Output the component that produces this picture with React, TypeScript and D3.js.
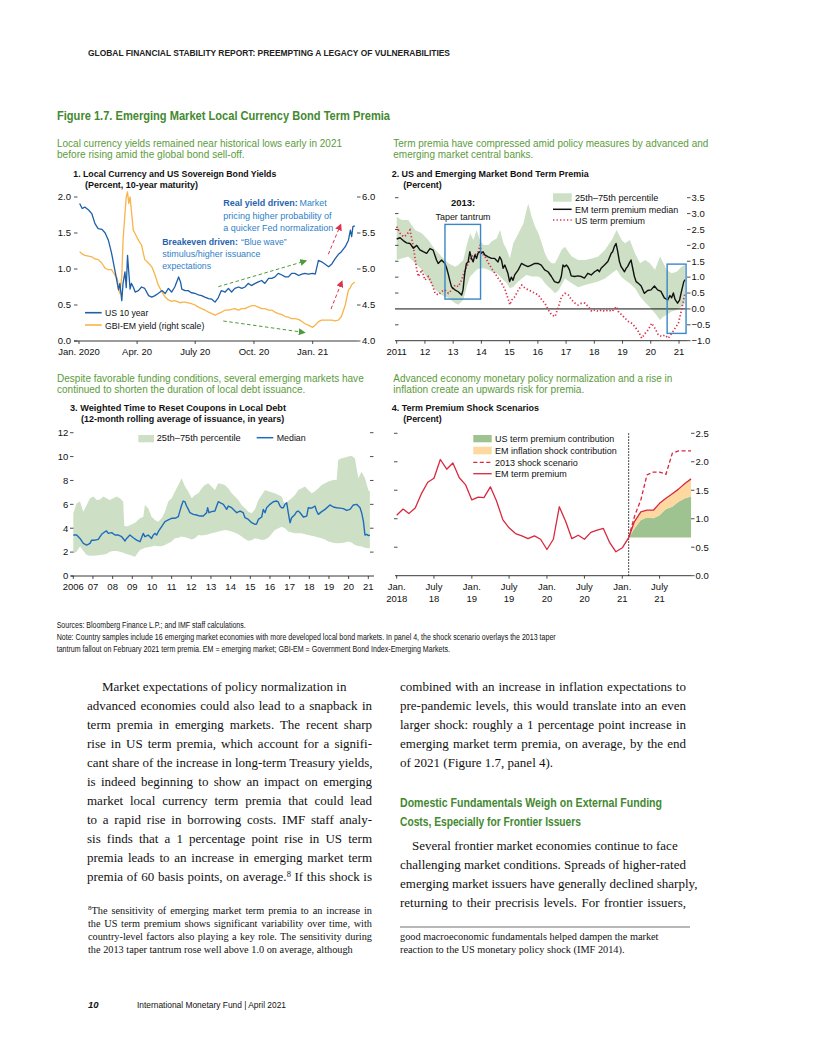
import React, { useLayoutEffect, useRef } from "react";
import * as d3 from "d3";

const NARROW = "'Liberation Sans Narrow','Arial Narrow',sans-serif";
const SERIF = "'Liberation Serif','Times New Roman',serif";
const GREEN_T = "#43892f";
const GREEN_S = "#5c9b3c";
const BAND = "#cde0c6";

// ---------------- Panel 1 ----------------
const p1Dates = ["2020-01-02","2020-01-06","2020-01-10","2020-01-16","2020-01-21","2020-01-26","2020-01-31","2020-02-06","2020-02-11","2020-02-16","2020-02-21","2020-02-26","2020-03-01","2020-03-03","2020-03-05","2020-03-08","2020-03-10","2020-03-13","2020-03-15","2020-03-17","2020-03-19","2020-03-21","2020-03-23","2020-03-26","2020-03-29","2020-04-03","2020-04-08","2020-04-13","2020-04-19","2020-04-24","2020-04-29","2020-05-04","2020-05-10","2020-05-15","2020-05-20","2020-05-25","2020-05-30","2020-06-05","2020-06-08","2020-06-10","2020-06-15","2020-06-20","2020-06-25","2020-07-01","2020-07-06","2020-07-11","2020-07-16","2020-07-22","2020-07-27","2020-08-01","2020-08-06","2020-08-11","2020-08-17","2020-08-22","2020-08-27","2020-09-01","2020-09-07","2020-09-12","2020-09-17","2020-09-22","2020-09-27","2020-10-03","2020-10-08","2020-10-13","2020-10-18","2020-10-24","2020-10-29","2020-11-03","2020-11-08","2020-11-13","2020-11-19","2020-11-24","2020-11-29","2020-12-04","2020-12-10","2020-12-15","2020-12-20","2020-12-25","2021-01-01","2021-01-05","2021-01-10","2021-01-15","2021-01-20","2021-01-26","2021-01-31","2021-02-05","2021-02-10","2021-02-15","2021-02-21","2021-02-26","2021-03-01","2021-03-03","2021-03-05","2021-03-08"];
const p1Us10Year = [1.91,1.84,1.86,1.82,1.77,1.63,1.56,1.55,1.50,1.40,1.22,0.99,0.80,0.71,0.80,0.56,0.80,0.96,0.74,1.19,0.95,0.72,0.80,0.75,0.68,0.70,0.75,0.73,0.63,0.61,0.63,0.66,0.70,0.66,0.73,0.68,0.75,0.89,0.82,0.72,0.70,0.70,0.67,0.66,0.64,0.63,0.61,0.59,0.58,0.54,0.60,0.70,0.68,0.73,0.68,0.73,0.75,0.73,0.75,0.80,0.77,0.80,0.82,0.84,0.80,0.87,0.87,0.89,0.94,0.92,0.89,0.89,0.94,0.94,0.91,0.93,0.94,0.93,0.94,0.93,1.12,1.10,1.07,1.03,1.07,1.14,1.20,1.24,1.31,1.40,1.54,1.45,1.59,1.60];
const p1GbiEmYield = [5.24,5.21,5.19,5.18,5.17,5.14,5.13,5.08,5.01,4.99,4.99,4.92,4.87,4.71,4.66,4.89,5.40,5.77,6.00,6.07,5.91,6.00,5.82,5.54,5.49,5.40,5.33,5.13,5.08,5.03,4.92,4.78,4.68,4.61,4.57,4.55,4.56,4.54,4.53,4.54,4.54,4.53,4.52,4.50,4.47,4.45,4.43,4.40,4.38,4.36,4.38,4.40,4.43,4.43,4.44,4.45,4.43,4.45,4.45,4.47,4.49,4.49,4.47,4.45,4.45,4.43,4.43,4.40,4.38,4.37,4.34,4.33,4.31,4.31,4.30,4.27,4.24,4.22,4.19,4.22,4.27,4.29,4.29,4.29,4.29,4.28,4.29,4.34,4.50,4.71,4.74,4.78,4.80,4.82];
const p1TickDates = ["2020-01-01","2020-04-01","2020-07-01","2020-10-01","2021-01-01"];
const p1TickLabels = ["Jan. 2020","Apr. 20","July 20","Oct. 20","Jan. 21"];
const p1LeftTicks = [0, 0.5, 1, 1.5, 2];
const p1RightTicks = [4, 4.5, 5, 5.5, 6];

// ---------------- Panel 2 ----------------
const p2MedianYears = [2011.00,2011.12,2011.23,2011.35,2011.47,2011.59,2011.71,2011.82,2011.94,2012.06,2012.18,2012.29,2012.41,2012.47,2012.59,2012.71,2012.77,2012.82,2012.88,2012.94,2013.06,2013.18,2013.30,2013.35,2013.41,2013.47,2013.53,2013.59,2013.65,2013.71,2013.77,2013.83,2013.88,2013.94,2014.00,2014.06,2014.12,2014.24,2014.36,2014.47,2014.59,2014.65,2014.71,2014.77,2014.83,2014.94,2015.00,2015.06,2015.12,2015.18,2015.30,2015.42,2015.53,2015.65,2015.77,2015.89,2016.00,2016.12,2016.24,2016.36,2016.48,2016.59,2016.71,2016.77,2016.83,2016.89,2016.95,2017.01,2017.06,2017.12,2017.18,2017.30,2017.42,2017.54,2017.65,2017.77,2017.89,2018.01,2018.12,2018.18,2018.24,2018.36,2018.48,2018.60,2018.65,2018.71,2018.77,2018.83,2018.89,2018.95,2019.07,2019.13,2019.18,2019.24,2019.30,2019.36,2019.42,2019.48,2019.54,2019.66,2019.77,2019.89,2020.01,2020.13,2020.24,2020.36,2020.48,2020.60,2020.68,2020.74,2020.80,2020.86,2020.95,2021.02,2021.10,2021.17,2021.22];
const p2Median = [2.20,2.24,2.15,2.08,2.06,1.91,2.00,1.86,1.80,1.75,1.90,1.85,1.54,1.43,1.54,1.43,1.28,1.12,0.90,0.70,0.60,0.54,0.44,0.60,1.12,1.43,1.48,1.80,1.59,1.48,1.70,1.59,1.75,1.80,1.75,1.80,1.70,1.64,1.59,1.59,1.48,1.64,1.54,1.28,1.38,1.12,0.86,1.00,0.90,1.07,1.22,1.43,1.38,1.33,1.38,1.43,1.43,1.38,1.23,1.17,1.02,0.86,0.82,0.86,1.02,1.38,1.33,1.38,1.33,1.23,1.04,1.02,1.04,1.02,0.97,1.12,1.07,1.17,1.23,1.17,1.28,1.38,1.49,1.75,1.80,1.96,2.06,1.80,1.49,1.33,1.17,1.28,1.33,1.44,1.54,1.28,1.02,0.86,0.82,0.72,0.49,0.58,0.60,0.72,0.60,0.55,0.35,0.28,0.42,0.35,0.50,0.30,0.18,0.28,0.60,0.86,0.92];
const p2BandYears = [2011.00,2011.18,2011.41,2011.65,2011.89,2012.12,2012.36,2012.59,2012.83,2013.07,2013.18,2013.36,2013.48,2013.60,2013.72,2013.83,2013.95,2014.07,2014.25,2014.36,2014.54,2014.66,2014.78,2014.90,2015.01,2015.13,2015.25,2015.37,2015.49,2015.60,2015.66,2015.78,2015.90,2016.02,2016.14,2016.25,2016.37,2016.49,2016.61,2016.73,2016.84,2016.96,2017.08,2017.20,2017.43,2017.67,2017.91,2018.14,2018.38,2018.62,2018.79,2018.97,2019.09,2019.26,2019.44,2019.62,2019.80,2019.97,2020.15,2020.33,2020.45,2020.56,2020.74,2020.92,2021.09,2021.21];
const p2Upper = [2.90,2.80,2.80,2.48,2.38,2.17,1.86,1.65,1.44,1.33,1.38,1.54,2.01,2.38,2.17,2.48,2.17,2.01,2.01,2.12,2.22,2.48,2.07,1.86,1.59,2.07,2.27,2.48,2.69,3.11,3.32,2.90,2.59,2.38,2.07,1.75,1.54,1.44,1.44,1.65,1.86,1.96,1.80,1.65,1.54,1.54,1.59,1.65,1.86,2.17,2.48,2.17,2.07,2.17,1.75,1.44,1.54,1.44,1.23,1.65,1.44,1.23,1.12,1.17,1.33,1.38];
const p2Lower = [1.54,1.59,1.65,1.44,1.23,0.91,0.60,0.44,0.34,0.18,0.13,0.28,0.70,1.02,1.12,1.23,1.28,1.28,1.23,1.17,1.12,1.02,0.91,0.81,0.65,0.70,0.81,0.91,1.00,1.07,1.05,1.02,1.02,1.02,0.95,0.81,0.70,0.60,0.49,0.58,0.75,0.96,0.88,0.81,0.68,0.75,0.81,0.86,0.96,1.12,1.23,1.00,0.91,0.80,0.65,0.39,0.20,0.05,-0.14,-0.35,-0.24,-0.19,-0.08,-0.03,0.07,0.18];
const p2UsYears = [2011.00,2011.12,2011.24,2011.35,2011.47,2011.59,2011.71,2011.77,2011.89,2012.00,2012.12,2012.24,2012.36,2012.48,2012.59,2012.71,2012.83,2012.95,2013.07,2013.18,2013.30,2013.42,2013.54,2013.66,2013.77,2013.89,2013.95,2014.01,2014.13,2014.25,2014.36,2014.48,2014.60,2014.72,2014.84,2014.96,2015.01,2015.07,2015.19,2015.31,2015.43,2015.55,2015.66,2015.78,2015.90,2016.02,2016.14,2016.25,2016.37,2016.49,2016.61,2016.73,2016.84,2016.96,2017.08,2017.20,2017.32,2017.43,2017.55,2017.67,2017.79,2017.91,2018.02,2018.14,2018.26,2018.38,2018.50,2018.62,2018.79,2018.85,2018.97,2019.09,2019.21,2019.32,2019.44,2019.56,2019.68,2019.80,2019.91,2020.03,2020.15,2020.27,2020.39,2020.50,2020.62,2020.74,2020.86,2020.98,2021.09,2021.21];
const p2UsTermPremium = [2.59,2.38,2.27,2.33,2.48,1.96,1.23,1.02,1.23,0.91,1.02,0.81,0.49,0.44,0.55,0.60,0.49,0.60,0.75,0.70,0.91,1.23,1.44,1.65,1.70,1.80,2.01,1.75,1.65,1.44,1.28,1.12,0.96,0.81,0.60,0.28,0.13,0.28,0.39,0.60,0.75,0.65,0.60,0.55,0.49,0.44,0.28,0.18,-0.03,-0.19,-0.24,0.07,0.39,0.49,0.44,0.28,0.18,0.12,0.18,0.18,0.07,-0.08,-0.03,-0.08,-0.03,-0.08,-0.03,-0.08,0.07,-0.08,-0.19,-0.29,-0.40,-0.45,-0.56,-0.71,-0.92,-0.77,-0.66,-0.45,-0.61,-0.82,-0.87,-0.82,-0.92,-0.77,-0.61,-0.45,-0.03,0.49];
const p2YearTicks = [2011,2012,2013,2014,2015,2016,2017,2018,2019,2020,2021];
const p2YearLabels = ["2011","12","13","14","15","16","17","18","19","20","21"];
const p2ValueTicks = [3.5,3,2.5,2,1.5,1,0.5,0,-0.5,-1];
const p2Boxes = [{ y0: 2012.71, y1: 2013.97, v0: 0.31, v1: 2.66 }, { y0: 2020.58, y1: 2021.25, v0: -0.77, v1: 1.41 }];

// ---------------- Panel 3 ----------------
const p3MedianYears = [2006.00,2006.17,2006.34,2006.51,2006.68,2006.85,2006.93,2007.10,2007.27,2007.36,2007.44,2007.61,2007.69,2007.78,2007.95,2008.12,2008.29,2008.46,2008.63,2008.71,2008.88,2009.05,2009.22,2009.39,2009.56,2009.64,2009.81,2009.98,2010.07,2010.15,2010.24,2010.32,2010.49,2010.66,2010.83,2011.00,2011.17,2011.34,2011.51,2011.59,2011.68,2011.76,2011.85,2011.93,2012.10,2012.27,2012.44,2012.61,2012.69,2012.78,2012.83,2012.90,2013.03,2013.20,2013.37,2013.46,2013.63,2013.80,2013.88,2014.05,2014.22,2014.31,2014.48,2014.64,2014.73,2014.90,2015.07,2015.24,2015.32,2015.41,2015.58,2015.66,2015.75,2015.83,2016.00,2016.17,2016.34,2016.42,2016.51,2016.59,2016.68,2016.76,2016.85,2016.93,2017.02,2017.10,2017.27,2017.36,2017.44,2017.53,2017.70,2017.87,2017.95,2018.12,2018.29,2018.37,2018.46,2018.63,2018.80,2019.05,2019.22,2019.39,2019.56,2019.73,2019.90,2020.07,2020.24,2020.41,2020.58,2020.66,2020.75,2020.83,2020.92,2021.00,2021.08];
const p3Median = [3.43,3.43,3.15,2.73,2.59,2.73,3.00,3.00,3.07,3.29,3.49,3.71,3.77,3.57,3.63,3.43,3.43,3.29,2.93,3.15,3.43,3.20,3.00,2.87,3.57,3.29,3.43,3.15,3.43,3.57,3.43,3.71,4.13,4.55,4.69,4.83,4.83,4.97,5.95,6.28,6.20,5.86,5.58,5.30,5.16,5.11,5.02,5.02,5.16,5.30,5.72,5.30,5.39,5.44,6.22,6.14,6.00,5.58,5.86,5.72,5.44,5.30,5.44,5.30,4.88,4.74,4.46,4.32,4.35,4.74,4.94,5.58,5.30,5.72,6.00,6.22,6.28,6.20,5.86,5.72,5.72,6.00,6.14,5.30,4.46,4.88,5.16,5.39,5.44,5.30,4.94,5.02,5.72,5.68,5.86,5.44,5.16,5.39,5.58,5.95,5.78,5.72,5.68,5.64,5.49,5.58,5.95,6.00,5.72,5.30,4.60,3.43,3.49,3.38,3.43];
const p3BandYears = [2006.00,2006.17,2006.34,2006.51,2006.68,2006.85,2007.02,2007.19,2007.36,2007.53,2007.69,2007.86,2008.03,2008.20,2008.37,2008.54,2008.59,2008.71,2008.88,2009.14,2009.39,2009.56,2009.64,2009.81,2009.98,2010.15,2010.32,2010.49,2010.66,2010.83,2011.00,2011.17,2011.34,2011.51,2011.68,2011.85,2012.02,2012.19,2012.36,2012.53,2012.69,2012.86,2013.03,2013.20,2013.37,2013.54,2013.71,2013.88,2014.05,2014.22,2014.39,2014.56,2014.73,2014.90,2015.07,2015.24,2015.41,2015.58,2015.75,2015.92,2016.25,2016.59,2016.76,2016.93,2017.10,2017.27,2017.44,2017.61,2017.78,2017.95,2018.12,2018.29,2018.46,2018.63,2018.80,2018.97,2019.22,2019.39,2019.47,2019.64,2019.81,2019.98,2020.15,2020.32,2020.49,2020.66,2020.83,2021.00,2021.08];
const p3Upper = [5.25,6.09,6.23,5.39,5.95,6.51,6.65,6.37,6.40,6.65,6.51,6.37,6.51,6.65,6.51,6.23,4.20,4.15,4.25,4.45,4.83,4.97,5.95,5.67,4.97,4.69,4.55,4.83,5.39,6.23,6.51,7.07,7.63,8.18,7.49,7.07,6.51,6.79,6.93,7.35,7.63,7.77,7.49,7.21,7.77,7.70,7.63,7.35,6.93,6.65,6.37,5.95,5.67,5.39,5.25,5.60,6.37,6.79,7.21,7.10,6.93,6.65,5.95,6.30,6.51,6.79,7.21,7.35,7.49,7.20,6.93,7.10,7.35,7.63,7.77,7.91,8.04,8.04,9.72,9.86,9.92,10.00,10.08,9.86,8.18,8.74,8.18,7.21,7.07];
const p3Lower = [1.90,2.04,2.46,2.10,1.76,1.70,1.70,1.72,1.76,1.80,1.85,2.04,2.09,2.09,2.04,1.95,1.90,1.85,1.76,1.62,2.18,2.30,2.37,2.40,2.46,2.54,2.50,2.50,2.60,2.75,2.88,3.16,3.20,3.30,3.25,3.16,3.05,3.16,3.44,3.40,3.44,3.50,3.58,3.65,3.72,3.78,3.85,3.80,3.72,3.62,3.50,3.30,3.10,2.95,3.00,3.16,3.10,3.02,3.05,3.20,3.85,4.13,4.00,3.72,3.65,3.58,3.58,3.58,3.50,3.44,3.38,3.30,3.22,3.16,3.05,2.88,2.78,2.74,2.74,2.76,2.80,2.88,2.80,2.60,2.52,2.46,2.37,2.33,2.32];
const p3YearTicks = [2006,2007,2008,2009,2010,2011,2012,2013,2014,2015,2016,2017,2018,2019,2020,2021];
const p3YearLabels = ["2006","07","08","09","10","11","12","13","14","15","16","17","18","19","20","21"];
const p3ValueTicks = [0, 2, 4, 6, 8, 10, 12];

// ---------------- Panel 4 ----------------
const p4Months = ["2018-01","2018-02","2018-03","2018-04","2018-05","2018-06","2018-07","2018-08","2018-09","2018-10","2018-11","2018-12","2019-01","2019-02","2019-03","2019-04","2019-05","2019-06","2019-07","2019-08","2019-09","2019-10","2019-11","2019-12","2020-01","2020-02","2020-03","2020-04","2020-05","2020-06","2020-07","2020-08","2020-09","2020-10","2020-11","2020-12","2021-01","2021-02"];
const p4EmTermPremium = [1.06,1.17,1.09,1.19,1.44,1.64,1.71,2.04,1.87,1.98,1.72,1.60,1.33,1.38,1.37,1.56,1.31,0.98,0.84,0.74,0.70,0.65,0.70,0.64,0.46,0.64,1.21,0.95,0.65,0.71,0.64,0.76,0.80,0.83,0.58,0.42,0.49,0.67];
const p4ProjMonths = ["2021-02","2021-03","2021-04","2021-05","2021-06","2021-07","2021-08","2021-09","2021-10","2021-11","2021-12"];
const p4Shock2013 = [0.67,1.04,1.33,1.77,1.82,1.82,1.78,2.15,2.19,2.19,2.19];
const p4EmProjected = [0.67,0.95,1.12,1.15,1.15,1.27,1.36,1.44,1.52,1.62,1.70];
const p4UsContribTop = [0.67,0.83,0.98,1.02,1.01,1.06,1.17,1.21,1.30,1.36,1.39];
const p4TickMonths = ["2018-01","2018-07","2019-01","2019-07","2020-01","2020-07","2021-01","2021-07"];
const p4TickLine1 = ["Jan.","July","Jan.","July","Jan.","July","Jan.","July"];
const p4TickLine2 = ["2018","18","19","19","20","20","21","21"];
const p4ValueTicks = [0, 0.5, 1, 1.5, 2, 2.5];

// ---------------- Text ----------------
const bodyLeft = [
  "Market expectations of policy normalization in",
  "advanced economies could also lead to a snapback in",
  "term premia in emerging markets. The recent sharp",
  "rise in US term premia, which account for a signifi-",
  "cant share of the increase in long-term Treasury yields,",
  "is indeed beginning to show an impact on emerging",
  "market local currency term premia that could lead",
  "to a rapid rise in borrowing costs. IMF staff analy-",
  "sis finds that a 1 percentage point rise in US term",
  "premia leads to an increase in emerging market term",
];
const bodyRight = [
  "combined with an increase in inflation expectations to",
  "pre-pandemic levels, this would translate into an even",
  "larger shock: roughly a 1 percentage point increase in",
  "emerging market term premia, on average, by the end",
];
const bodyRight2 = [
  "Several frontier market economies continue to face",
  "challenging market conditions. Spreads of higher-rated",
  "emerging market issuers have generally declined sharply,",
  "returning to their precrisis levels. For frontier issuers,",
];
const footLeft = [
  "the US term premium shows significant variability over time, with",
  "country-level factors also playing a key role. The sensitivity during",
  "the 2013 taper tantrum rose well above 1.0 on average, although",
];

type TP = { x: number; y: number; s: number; w?: number; fam?: string; fill?: string; bold?: boolean; italic?: boolean; anchor?: string; adj?: string; children?: any; just?: number };
const T = (p: TP) => (
  <text x={p.x} y={p.y} fontSize={p.s} fontFamily={p.fam ?? NARROW} fill={p.fill ?? "#111"}
    fontWeight={p.bold ? "bold" : "normal"} fontStyle={p.italic ? "italic" : "normal"}
    textAnchor={p.anchor ?? "start"}
    {...(p.just ? { "data-just": p.just } : {})}
    {...(p.w ? { textLength: p.w, lengthAdjust: p.adj ?? "spacingAndGlyphs" } : {})}>
    {p.children}
  </text>
);

function justify(svg: SVGSVGElement | null) {
  if (!svg) return;
  svg.querySelectorAll<SVGTextElement>("text[data-just]").forEach((el) => {
    const target = +(el.getAttribute("data-just") || 0);
    el.style.wordSpacing = "0px";
    const len = el.getComputedTextLength();
    const spaces = (el.textContent || "").split(" ").length - 1;
    if (spaces > 0 && target > len) el.style.wordSpacing = (target - len) / spaces + "px";
  });
}

export default function App() {
  const svgRef = useRef<SVGSVGElement>(null);
  useLayoutEffect(() => {
    justify(svgRef.current);
    if ((document as any).fonts?.ready) (document as any).fonts.ready.then(() => justify(svgRef.current));
  }, []);

  const pd = d3.timeParse("%Y-%m-%d");
  const pm = d3.timeParse("%Y-%m");

  // Panel 1 scales
  const x1 = d3.scaleTime().domain([pd("2020-01-01")!, pd("2021-01-01")!]).range([79, 312.7]);
  const y1L = d3.scaleLinear().domain([0, 2]).range([341, 197]);
  const y1R = d3.scaleLinear().domain([4, 6]).range([341, 197]);
  const usPath = d3.line<number>().x((_, i) => x1(pd(p1Dates[i])!)).y((d) => y1L(d))(p1Us10Year)!;
  const gbiPath = d3.line<number>().x((_, i) => x1(pd(p1Dates[i])!)).y((d) => y1R(d))(p1GbiEmYield)!;

  // Panel 2 scales
  const x2 = d3.scaleLinear().domain([2011, 2021]).range([396.7, 679]);
  const y2 = d3.scaleLinear().domain([-1, 3.5]).range([340.7, 197.7]);
  const bandPath2 = d3.area<number>().x((d) => x2(d)).y0((_, i) => y2(p2Lower[i])).y1((_, i) => y2(p2Upper[i]))(p2BandYears)!;
  const medPath2 = d3.line<number>().x((d) => x2(d)).y((_, i) => y2(p2Median[i]))(p2MedianYears)!;
  const usPath2 = d3.line<number>().x((d) => x2(d)).y((_, i) => y2(p2UsTermPremium[i]))(p2UsYears)!;

  // Panel 3 scales
  const x3 = d3.scaleLinear().domain([2006, 2021]).range([73.3, 368.3]);
  const y3 = d3.scaleLinear().domain([0, 12]).range([576, 432.7]);
  const bandPath3 = d3.area<number>().x((d) => x3(d)).y0((_, i) => y3(p3Lower[i])).y1((_, i) => y3(p3Upper[i]))(p3BandYears)!;
  const medPath3 = d3.line<number>().x((d) => x3(d)).y((_, i) => y3(p3Median[i]))(p3MedianYears)!;

  // Panel 4 scales
  const x4 = d3.scaleTime().domain([pm("2018-01")!, pm("2021-01")!]).range([396.7, 622.3]);
  const y4 = d3.scaleLinear().domain([0, 2.5]).range([575.7, 433.3]);
  const base4 = p4EmTermPremium[p4EmTermPremium.length - 1];
  const emPath4 = d3.line<string>().x((d) => x4(pm(d)!)).y((_, i) => y4(p4EmTermPremium[i]))(p4Months)!;
  const shockPath4 = d3.line<string>().x((d) => x4(pm(d)!)).y((_, i) => y4(p4Shock2013[i]))(p4ProjMonths)!;
  const projPath4 = d3.line<string>().x((d) => x4(pm(d)!)).y((_, i) => y4(p4EmProjected[i]))(p4ProjMonths)!;
  const greenArea4 = d3.area<string>().x((d) => x4(pm(d)!)).y0(() => y4(base4)).y1((_, i) => y4(p4UsContribTop[i]))(p4ProjMonths)!;
  const orangeArea4 = d3.area<string>().x((d) => x4(pm(d)!)).y0((_, i) => y4(p4UsContribTop[i])).y1((_, i) => y4(p4EmProjected[i]))(p4ProjMonths)!;
  const vx4 = x4(pm("2021-02")!);

  const RED = "#d8283f";
  const US_BLUE = "#1d5fa8";
  const ORANGE = "#f8b44a";
  const ANN_BLUE = "#2f7fc7";
  const ANN_BOLD = "#1f63ae";

  return (
    <svg ref={svgRef} width={816} height={1056} style={{ position: "absolute", left: 0, top: 0, background: "#fff" }}>
      <defs>
        <marker id="arrG" viewBox="0 0 8 8" refX="6" refY="4" markerWidth="7" markerHeight="7" markerUnits="userSpaceOnUse" orient="auto">
          <path d="M0,0 L8,4 L0,8 z" fill="#4f9a3a" />
        </marker>
        <marker id="arrR" viewBox="0 0 8 8" refX="6" refY="4" markerWidth="7" markerHeight="7" markerUnits="userSpaceOnUse" orient="auto">
          <path d="M0,0 L8,4 L0,8 z" fill="#e0304c" />
        </marker>
      </defs>
      <rect x={0} y={0} width={816} height={1056} fill="#fff" />

      {/* Header */}
      <T x={88} y={56} s={9.5} w={362} fill="#222" bold>GLOBAL FINANCIAL STABILITY REPORT: PREEMPTING A LEGACY OF VULNERABILITIES</T>
      <T x={57} y={119.5} s={13} w={333} fill={GREEN_T} bold>Figure 1.7. Emerging Market Local Currency Bond Term Premia</T>

      {/* ================= Panel 1 ================= */}
      <T x={57} y={146.5} s={10.5} w={285} fill={GREEN_S}>Local currency yields remained near historical lows early in 2021</T>
      <T x={57} y={158} s={10.5} w={187.6} fill={GREEN_S}>before rising amid the global bond sell-off.</T>
      <T x={73.3} y={176.5} s={9} w={203} bold>1. Local Currency and US Sovereign Bond Yields</T>
      <T x={85} y={187.5} s={9} w={113} bold>(Percent, 10-year maturity)</T>
      {p1LeftTicks.map((v) => (
        <g key={"l1" + v}>
          <T x={71} y={y1L(v) + 3.3} s={9.5} anchor="end">{v.toFixed(1)}</T>
          <line x1={74} x2={77.5} y1={y1L(v)} y2={y1L(v)} stroke="#222" strokeWidth={0.8} />
        </g>
      ))}
      {p1RightTicks.map((v) => (
        <g key={"r1" + v}>
          <line x1={357} x2={360.5} y1={y1R(v)} y2={y1R(v)} stroke="#222" strokeWidth={0.8} />
          <T x={362} y={y1R(v) + 3.3} s={9.5}>{v.toFixed(1)}</T>
        </g>
      ))}
      <line x1={74} x2={357} y1={341} y2={341} stroke="#222" strokeWidth={0.9} />
      {p1TickDates.map((d, i) => (
        <g key={"t1" + d}>
          <line x1={x1(pd(d)!)} x2={x1(pd(d)!)} y1={341} y2={344} stroke="#222" strokeWidth={0.8} />
          <T x={x1(pd(d)!)} y={354.5} s={9.5} anchor="middle">{p1TickLabels[i]}</T>
        </g>
      ))}
      <path d={gbiPath} fill="none" stroke={ORANGE} strokeWidth={1.3} strokeLinejoin="round" />
      <path d={usPath} fill="none" stroke={US_BLUE} strokeWidth={1.3} strokeLinejoin="round" />
      {/* annotations */}
      <T x={223.3} y={206.3} s={9.5} w={74.4} fill={ANN_BOLD} bold>Real yield driven:</T>
      <T x={299.5} y={206.3} s={9.5} w={27.2} fill={ANN_BLUE}>Market</T>
      <T x={223.3} y={219.3} s={9.5} w={108.3} fill={ANN_BLUE}>pricing higher probability of</T>
      <T x={223.3} y={231} s={9.5} w={110} fill={ANN_BLUE}>a quicker Fed normalization</T>
      <T x={162.3} y={245.3} s={9.5} w={75.5} fill={ANN_BOLD} bold>Breakeven driven:</T>
      <T x={241} y={245.3} s={9.5} w={45.7} fill={ANN_BLUE}>“Blue wave”</T>
      <T x={162.3} y={257} s={9.5} w={98.3} fill={ANN_BLUE}>stimulus/higher issuance</T>
      <T x={162.3} y={268.7} s={9.5} w={48.7} fill={ANN_BLUE}>expectations</T>
      <line x1={218.3} y1={286.7} x2={305.5} y2={261} stroke="#4f9a3a" strokeWidth={1} strokeDasharray="3.5 2.5" markerEnd="url(#arrG)" />
      <line x1={223.3} y1={321} x2={304} y2={332.4} stroke="#4f9a3a" strokeWidth={1} strokeDasharray="3.5 2.5" markerEnd="url(#arrG)" />
      <line x1={328.3} y1={254.3} x2={340.5} y2={225} stroke="#e0304c" strokeWidth={1} strokeDasharray="3.5 2.5" markerEnd="url(#arrR)" />
      <line x1={331} y1={309} x2={341.8} y2={281.8} stroke="#e0304c" strokeWidth={1} strokeDasharray="3.5 2.5" markerEnd="url(#arrR)" />
      {/* legend */}
      <line x1={85} x2={101.7} y1={312.7} y2={312.7} stroke={US_BLUE} strokeWidth={1.6} />
      <T x={105} y={316.2} s={9.5} w={43.3}>US 10 year</T>
      <line x1={85} x2={101.7} y1={325} y2={325} stroke={ORANGE} strokeWidth={1.6} />
      <T x={105} y={328.5} s={9.5} w={99.3}>GBI-EM yield (right scale)</T>

      {/* ================= Panel 2 ================= */}
      <T x={393.3} y={146.5} s={10.5} w={315} fill={GREEN_S}>Term premia have compressed amid policy measures by advanced and</T>
      <T x={393.3} y={158} s={10.5} w={140} fill={GREEN_S}>emerging market central banks.</T>
      <T x={391.7} y={176.5} s={9} w={197} bold>2. US and Emerging Market Bond Term Premia</T>
      <T x={403.3} y={187.5} s={9} w={38.4} bold>(Percent)</T>
      <path d={bandPath2} fill={BAND} stroke="none" />
      {p2ValueTicks.map((v) => (
        <g key={"v2" + v}>
          {v > -1 && v !== 0 && <line x1={395} x2={398.5} y1={y2(v)} y2={y2(v)} stroke="#222" strokeWidth={0.8} />}
          <line x1={687} x2={690.5} y1={y2(v)} y2={y2(v)} stroke="#222" strokeWidth={0.8} />
          <T x={691.5} y={y2(v) + 3.3} s={9.5}>{v < 0 ? "−" + Math.abs(v).toFixed(1) : v.toFixed(1)}</T>
        </g>
      ))}
      <line x1={395} x2={687} y1={y2(0)} y2={y2(0)} stroke="#111" strokeWidth={1} />
      <line x1={395} x2={687} y1={y2(-1)} y2={y2(-1)} stroke="#222" strokeWidth={0.9} />
      {p2YearTicks.map((yr, i) => (
        <g key={"t2" + yr}>
          <line x1={x2(yr)} x2={x2(yr)} y1={y2(-1)} y2={y2(-1) + 3} stroke="#222" strokeWidth={0.8} />
          <T x={x2(yr)} y={354.5} s={9.5} anchor="middle">{p2YearLabels[i]}</T>
        </g>
      ))}
      <path d={usPath2} fill="none" stroke="#d9304c" strokeWidth={1.7} strokeDasharray="1.3 2.2" />
      <path d={medPath2} fill="none" stroke="#111" strokeWidth={1.4} strokeLinejoin="round" />
      {p2Boxes.map((b, i) => (
        <rect key={"b" + i} x={x2(b.y0)} y={y2(b.v1)} width={x2(b.y1) - x2(b.y0)} height={y2(b.v0) - y2(b.v1)} fill="none" stroke="#3a86c8" strokeWidth={1.4} />
      ))}
      <T x={x2(2013.35)} y={205.5} s={9.5} anchor="middle" bold>2013:</T>
      <T x={x2(2013.35)} y={219.5} s={9.5} anchor="middle" w={55}>Taper tantrum</T>
      <rect x={553} y={193.3} width={18.7} height={8.4} fill={BAND} />
      <T x={575} y={201} s={9.5} w={83.3}>25th–75th percentile</T>
      <line x1={553} x2={571.7} y1={209.3} y2={209.3} stroke="#111" strokeWidth={1.5} />
      <T x={575} y={212.8} s={9.5} w={103.3}>EM term premium median</T>
      <line x1={553} x2={571.7} y1={220} y2={220} stroke="#d9304c" strokeWidth={1.7} strokeDasharray="1.3 2.2" />
      <T x={575} y={223.5} s={9.5} w={70}>US term premium</T>

      {/* ================= Panel 3 ================= */}
      <T x={57} y={381.5} s={10.5} w={306.7} fill={GREEN_S}>Despite favorable funding conditions, several emerging markets have</T>
      <T x={57} y={393} s={10.5} w={248.3} fill={GREEN_S}>continued to shorten the duration of local debt issuance.</T>
      <T x={70} y={411} s={9} w={216} bold>3. Weighted Time to Reset Coupons in Local Debt</T>
      <T x={81} y={421.8} s={9} w={203.3} bold>(12-month rolling average of issuance, in years)</T>
      <path d={bandPath3} fill={BAND} stroke="none" />
      {p3ValueTicks.map((v) => (
        <g key={"v3" + v}>
          <T x={68.3} y={y3(v) + 3.3} s={9.5} anchor="end">{String(v)}</T>
          <line x1={70} x2={73.5} y1={y3(v)} y2={y3(v)} stroke="#222" strokeWidth={0.8} />
          {v > 0 && <line x1={370} x2={373.5} y1={y3(v)} y2={y3(v)} stroke="#222" strokeWidth={0.8} />}
        </g>
      ))}
      <line x1={71} x2={374} y1={576} y2={576} stroke="#222" strokeWidth={0.9} />
      {p3YearTicks.map((yr, i) => (
        <g key={"t3" + yr}>
          <line x1={x3(yr)} x2={x3(yr)} y1={576} y2={579} stroke="#222" strokeWidth={0.8} />
          <T x={x3(yr)} y={589.5} s={9.5} anchor="middle">{p3YearLabels[i]}</T>
        </g>
      ))}
      <path d={medPath3} fill="none" stroke="#1f6cbc" strokeWidth={1.4} strokeLinejoin="round" />
      <rect x={138.3} y={435} width={15.7} height={7.3} fill={BAND} />
      <T x={156.7} y={441} s={9.5} w={84}>25th–75th percentile</T>
      <line x1={256.7} x2={273.3} y1={437.7} y2={437.7} stroke="#1f6cbc" strokeWidth={1.5} />
      <T x={276.7} y={441} s={9.5} w={29}>Median</T>

      {/* ================= Panel 4 ================= */}
      <T x={393.3} y={381.5} s={10.5} w={279} fill={GREEN_S}>Advanced economy monetary policy normalization and a rise in</T>
      <T x={393.3} y={393} s={10.5} w={191} fill={GREEN_S}>inflation create an upwards risk for premia.</T>
      <T x={391.7} y={411} s={9} w={147.3} bold>4. Term Premium Shock Scenarios</T>
      <T x={403.3} y={421.8} s={9} w={38.4} bold>(Percent)</T>
      {p4ValueTicks.map((v) => (
        <g key={"v4" + v}>
          {v > 0 && <line x1={394} x2={397.5} y1={y4(v)} y2={y4(v)} stroke="#222" strokeWidth={0.8} />}
          <line x1={691} x2={694.5} y1={y4(v)} y2={y4(v)} stroke="#222" strokeWidth={0.8} />
          <T x={695.5} y={y4(v) + 3.3} s={9.5}>{v.toFixed(1)}</T>
        </g>
      ))}
      <path d={greenArea4} fill="#9fc390" stroke="none" />
      <path d={orangeArea4} fill="#fdd8a0" stroke="none" />
      <line x1={395} x2={691} y1={y4(0)} y2={y4(0)} stroke="#222" strokeWidth={0.9} />
      {p4TickMonths.map((m, i) => (
        <g key={"t4" + m}>
          <line x1={x4(pm(m)!)} x2={x4(pm(m)!)} y1={y4(0)} y2={y4(0) + 3} stroke="#222" strokeWidth={0.8} />
          <T x={x4(pm(m)!)} y={590} s={9.5} anchor="middle">{p4TickLine1[i]}</T>
          <T x={x4(pm(m)!)} y={602} s={9.5} anchor="middle">{p4TickLine2[i]}</T>
        </g>
      ))}
      <line x1={vx4} x2={vx4} y1={y4(2.5)} y2={y4(0)} stroke="#111" strokeWidth={1} strokeDasharray="1.5 1.5" />
      <path d={shockPath4} fill="none" stroke={RED} strokeWidth={1.3} strokeDasharray="4 2.5" />
      <path d={emPath4} fill="none" stroke={RED} strokeWidth={1.3} strokeLinejoin="round" />
      <path d={projPath4} fill="none" stroke={RED} strokeWidth={1.3} strokeLinejoin="round" />
      <rect x={473.3} y={435} width={18.4} height={7.3} fill="#9fc390" />
      <T x={495} y={441.8} s={9.5} w={119.3}>US term premium contribution</T>
      <rect x={473.3} y={446.7} width={18.4} height={7.6} fill="#fdd8a0" />
      <T x={495} y={453.5} s={9.5} w={121.7}>EM inflation shock contribution</T>
      <line x1={473.3} x2={491.7} y1={462.3} y2={462.3} stroke={RED} strokeWidth={1.3} strokeDasharray="4 2.5" />
      <T x={495} y={465.8} s={9.5} w={82.7}>2013 shock scenario</T>
      <line x1={473.3} x2={491.7} y1={473.7} y2={473.7} stroke={RED} strokeWidth={1.3} />
      <T x={495} y={477.2} s={9.5} w={71.7}>EM term premium</T>

      {/* Sources */}
      <T x={56.7} y={628} s={8.5} w={189}>Sources: Bloomberg Finance L.P.; and IMF staff calculations.</T>
      <T x={56.7} y={640.3} s={8.5} w={499}>Note: Country samples include 16 emerging market economies with more developed local bond markets. In panel 4, the shock scenario overlays the 2013 taper</T>
      <T x={56.7} y={652.3} s={8.5} w={393.3}>tantrum fallout on February 2021 term premia. EM = emerging market; GBI-EM = Government Bond Index-Emerging Markets.</T>

      {/* Body text left */}
      {bodyLeft.map((t, i) => (
        <T key={"bl" + i} x={i === 0 ? 102 : 87} y={691 + 19 * i} s={13} fam={SERIF} just={i === 0 ? undefined : 285}>{t}</T>
      ))}
      <text x={87} y={691 + 19 * 10} fontSize={13} fontFamily={SERIF} fill="#111" data-just={285}>
        premia of 60 basis points, on average.<tspan fontSize={8.5} dy={-4.5}>8</tspan><tspan dy={4.5}> If this shock is</tspan>
      </text>

      {/* Body text right */}
      {bodyRight.map((t, i) => (
        <T key={"br" + i} x={400} y={691 + 19 * i} s={13} fam={SERIF} just={286}>{t}</T>
      ))}
      <T x={400} y={691 + 19 * 4} s={13} fam={SERIF}>of 2021 (Figure 1.7, panel 4).</T>
      <T x={400} y={807} s={13} w={262} fill={GREEN_T} bold>Domestic Fundamentals Weigh on External Funding</T>
      <T x={400} y={826} s={13} w={181} fill={GREEN_T} bold>Costs, Especially for Frontier Issuers</T>
      {bodyRight2.map((t, i) => (
        <T key={"br2" + i} x={i === 0 ? 412 : 400} y={850 + 19 * i} s={13} fam={SERIF} just={i === 0 ? 260 : 286}>{t}</T>
      ))}

      {/* Footnotes */}
      <text x={88} y={913.5} fontSize={10.3} fontFamily={SERIF} fill="#111" data-just={284}>
        <tspan fontSize={7} dy={-3.5}>8</tspan><tspan dy={3.5}>The sensitivity of emerging market term premia to an increase in</tspan>
      </text>
      {footLeft.map((t, i) => (
        <T key={"fl" + i} x={88} y={927 + 13.2 * i} s={10.3} fam={SERIF} just={i < 2 ? 284 : undefined}>{t}</T>
      ))}
      <line x1={400} x2={690} y1={927} y2={927} stroke="#333" strokeWidth={0.7} />
      <T x={400} y={940.2} s={10.3} fam={SERIF}>good macroeconomic fundamentals helped dampen the market</T>
      <T x={400} y={953.4} s={10.3} fam={SERIF}>reaction to the US monetary policy shock (IMF 2014).</T>

      {/* Footer */}
      <T x={88} y={1008} s={9.5} bold italic>10</T>
      <T x={137} y={1008} s={9} w={149}>International Monetary Fund | April 2021</T>
    </svg>
  );
}
